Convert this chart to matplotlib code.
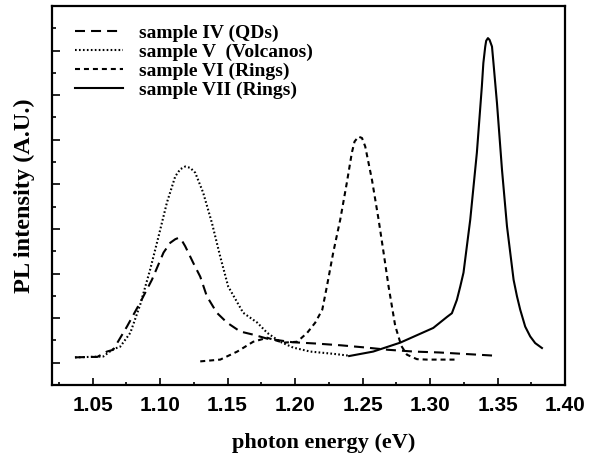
import numpy as np
import matplotlib.pyplot as plt
from matplotlib.ticker import MultipleLocator

# sample IV (QDs)
e_iv = [1.037, 1.048, 1.0535, 1.0607, 1.0653, 1.0755, 1.0853, 1.094, 1.1026, 1.1076,
        1.1113, 1.1137, 1.1162, 1.1187, 1.1246, 1.1298, 1.1347, 1.1421, 1.1496, 1.1594,
        1.169, 1.1794, 1.198, 1.2157, 1.2342, 1.2527, 1.269, 1.2883, 1.3068, 1.3468]
i_iv = [0.12, 0.13, 0.13, 0.25, 0.29, 0.81, 1.35, 1.86, 2.47, 2.69,
        2.77, 2.80, 2.74, 2.61, 2.24, 1.93, 1.49, 1.12, 0.90, 0.70,
        0.63, 0.54, 0.46, 0.43, 0.39, 0.34, 0.29, 0.25, 0.23, 0.16]

# sample V (Volcanos)
e_v = [1.037, 1.058, 1.065, 1.0705, 1.078, 1.0853, 1.0927, 1.0989, 1.1051, 1.1113,
       1.115, 1.1187, 1.1224, 1.1261, 1.132, 1.1384, 1.1446, 1.1505, 1.1616, 1.172,
       1.1794, 1.189, 1.1986, 1.2113, 1.2283, 1.2394]
i_v = [0.12, 0.14, 0.30, 0.36, 0.67, 1.30, 2.09, 2.83, 3.59, 4.18,
       4.34, 4.40, 4.37, 4.26, 3.81, 3.14, 2.38, 1.71, 1.12, 0.90,
       0.67, 0.47, 0.34, 0.25, 0.20, 0.16]

# sample VI (Rings)
e_vi = [1.1298, 1.1446, 1.1572, 1.169, 1.1794, 1.1913, 1.2016, 1.209, 1.215, 1.2202,
        1.2236, 1.2283, 1.2335, 1.2384, 1.2421, 1.2441, 1.247, 1.2496, 1.252, 1.257,
        1.2619, 1.2656, 1.2693, 1.2742, 1.2787, 1.2829, 1.2903, 1.2979, 1.3201]
i_vi = [0.03, 0.07, 0.25, 0.47, 0.56, 0.45, 0.47, 0.67, 0.90, 1.19,
        1.71, 2.47, 3.21, 4.04, 4.71, 4.96, 5.07, 5.04, 4.85, 4.10,
        3.21, 2.47, 1.71, 0.83, 0.38, 0.18, 0.08, 0.07, 0.07]

# sample VII (Rings)
e_vii = [1.2401, 1.2579, 1.2779, 1.3024, 1.3127, 1.3162, 1.3199, 1.3224, 1.3248, 1.3298,
         1.3347, 1.3384, 1.3395, 1.3409, 1.3416, 1.3429, 1.3441, 1.3459, 1.347, 1.3496,
         1.3533, 1.357, 1.3619, 1.3644, 1.3668, 1.3705, 1.3742, 1.3779, 1.3829]
i_vii = [0.15, 0.25, 0.45, 0.78, 1.03, 1.11, 1.41, 1.71, 2.02, 3.21,
         4.71, 6.20, 6.72, 7.09, 7.22, 7.28, 7.24, 7.09, 6.72, 5.82,
         4.33, 3.06, 1.86, 1.49, 1.19, 0.81, 0.59, 0.44, 0.33]

labels = ["sample IV (QDs)", "sample V  (Volcanos)", "sample VI (Rings)", "sample VII (Rings)"]
x_ticks = [1.05, 1.10, 1.15, 1.20, 1.25, 1.30, 1.35, 1.40]

fig = plt.figure(figsize=(5.89, 4.57), dpi=100)
ax = fig.add_axes([0.0883, 0.1575, 0.871, 0.8294])

lw = 1.5
ax.plot(e_iv, i_iv, color='black', lw=lw, dashes=(4.8, 2.9), label=labels[0])
ax.plot(e_v, i_v, color='black', lw=lw, dashes=(0.8, 1.1), label=labels[1])
ax.plot(e_vi, i_vi, color='black', lw=lw, dashes=(2.4, 1.9), label=labels[2])
ax.plot(e_vii, i_vii, color='black', lw=lw, label=labels[3])

ax.set_xlim(1.02, 1.40)
ax.set_ylim(-0.5, 8.0)
ax.set_xticks(x_ticks)
ax.set_xticklabels(["%.2f" % t for t in x_ticks])
ax.xaxis.set_minor_locator(MultipleLocator(0.025))
ax.yaxis.set_major_locator(MultipleLocator(1))
ax.yaxis.set_minor_locator(MultipleLocator(0.5))
ax.tick_params(axis='x', which='both', direction='in', top=False)
ax.tick_params(axis='y', which='both', direction='in', right=False, labelleft=False)
ax.tick_params(axis='x', which='major', length=5, width=1.2, pad=8)
ax.tick_params(axis='x', which='minor', length=2.5, width=1.2)
ax.tick_params(axis='y', which='major', length=6, width=1.2)
ax.tick_params(axis='y', which='minor', length=3, width=1.2)
for lab in ax.get_xticklabels():
    lab.set_fontfamily('Liberation Sans')
    lab.set_fontweight('bold')
    lab.set_fontsize(15)

for s in ax.spines.values():
    s.set_linewidth(1.6)

# 軸ラベル
ax.set_xlabel("photon energy (eV)", fontfamily='Liberation Serif', fontweight='bold',
              fontsize=16)
ax.xaxis.set_label_coords(0.529, -0.126)
ax.set_ylabel("PL intensity (A.U.)", fontfamily='Liberation Serif', fontweight='bold',
              fontsize=17.5, labelpad=12)

ax.legend(loc='upper left', bbox_to_anchor=(0.0448, 0.951), frameon=False,
          borderpad=0, handlelength=2.47, handletextpad=0.82,
          labelspacing=0.07, borderaxespad=0,
          prop={'family': 'Liberation Serif', 'weight': 'bold', 'size': 14})

fig.savefig("out.png", dpi=100)
